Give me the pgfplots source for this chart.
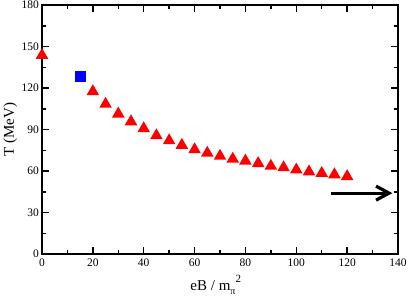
\documentclass[border=0pt]{standalone}
\usepackage{fontspec}
\setmainfont{Liberation Serif}
\usepackage{pgfplots}
\pgfplotsset{compat=1.18}
\usetikzlibrary{arrows.meta}
\pgfdeclareplotmark{gtri}{%
 \pgfpathmoveto{\pgfqpoint{0pt}{0.866\pgfplotmarksize}}%
 \pgfpathlineto{\pgfqpoint{\pgfplotmarksize}{-0.866\pgfplotmarksize}}%
 \pgfpathlineto{\pgfqpoint{-\pgfplotmarksize}{-0.866\pgfplotmarksize}}%
 \pgfpathclose\pgfusepathqfill}
\begin{document}
\begin{tikzpicture}
\begin{axis}[
  scale only axis, width=356pt, height=249pt,
  xmin=0, xmax=140, ymin=0, ymax=180,
  xtick={0,20,...,140}, ytick={0,30,...,180},
  minor x tick num=1, minor y tick num=1,
  tick align=inside,
  major tick length=7pt, minor tick length=4pt,
  axis line style={line width=1.8pt},
  every tick/.style={black, line width=1.5pt},
  /pgf/number format/assume math mode=true,
  tick label style={font=\fontsize{11.5}{12}\selectfont, inner sep=0pt},
  yticklabel style={xshift=-3pt},
  xticklabel style={yshift=-5pt},
  xlabel={eB / m\raisebox{-4pt}{\fontsize{10}{10}\selectfont π}\raisebox{8pt}{\fontsize{11}{11}\selectfont 2}},
  ylabel={T (MeV)},
  label style={font=\fontsize{15}{16}\selectfont},
  xlabel style={at={(axis description cs:0.488,-0.1446)}, anchor=base},
  ylabel style={at={(axis description cs:-0.0787,0.5)}, anchor=base},
]
\addplot[only marks, mark=gtri, mark size=6.3pt, color=red] coordinates {
(0,145) (20,118.8) (25,109.7) (30,102.6) (35,97.0) (40,92.0) (45,86.9)
(50,83.3) (55,80.0) (60,76.8) (65,74.3) (70,72.1) (75,70.0) (80,68.6)
(85,66.8) (90,64.9) (95,63.8) (100,62.2) (105,60.8) (110,59.7) (115,58.7) (120,57.4)
};
\addplot[only marks, mark=square*, mark size=5pt, color=blue] coordinates {(15,128.5)};
\addplot[black, line width=3.2pt, -{Straight Barb[length=13pt,width=14pt]}] coordinates {(113.5,44) (137.8,44)};
\end{axis}
\pgfresetboundingbox
\path (current axis.south west) +(-42pt,-44pt) (current axis.north east) +(11pt,5pt);
\end{tikzpicture}
\end{document}
